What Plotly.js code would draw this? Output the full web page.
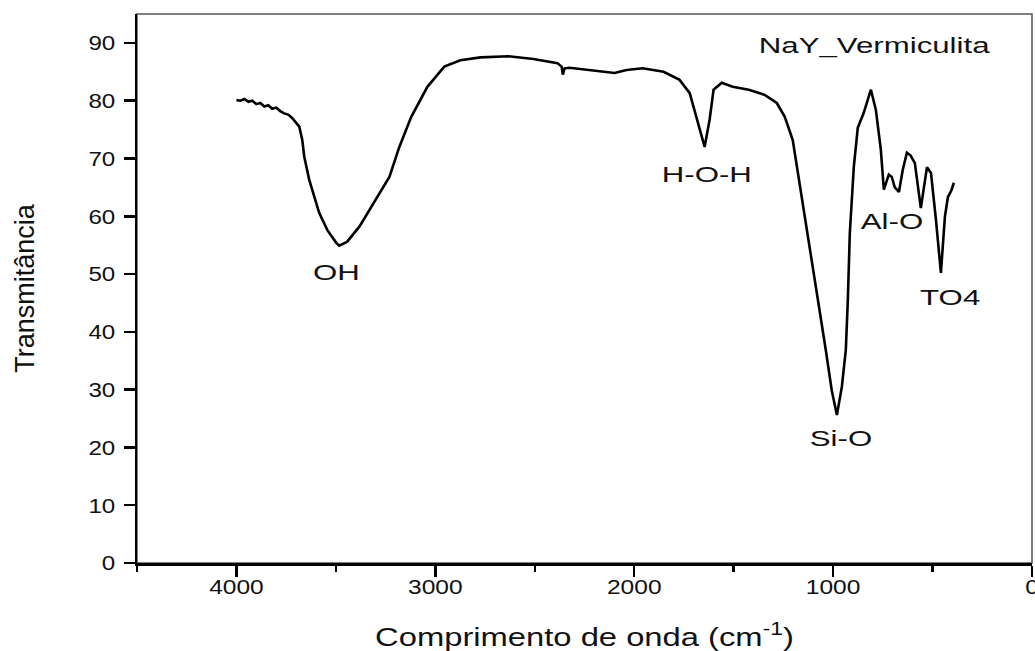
<!DOCTYPE html>
<html>
<head>
<meta charset="utf-8">
<script src="https://cdn.plot.ly/plotly-3.0.1.min.js"></script>
<style>
html,body{margin:0;padding:0;background:#fff;}
#chart{width:1035px;height:651px;}
</style>
</head>
<body>
<div id="chart"></div>
<script>
// Wavenumber (cm^-1) and transmittance (%)
const wavenumber = [4000,3980,3960,3940,3920,3900,3880,3860,3840,3820,3800,3780,3760,3740,3720,3700,3684,3669,3659,3634,3609,3584,3543,3498,3483,3443,3382,3332,3282,3231,3181,3121,3040,2955,2874,2773,2632,2507,2386,2365,2359,2350,2325,2220,2099,2038,1958,1852,1772,1721,1681,1646,1621,1601,1560,1505,1424,1344,1283,1243,1203,1163,1117,1077,1037,1007,981,956,936,926,916,896,876,846,810,785,760,745,730,720,705,690,669,650,629,610,589,559,528,508,483,458,438,423,405,393];
const transmittance = [80.1,80.0,80.3,79.8,80.0,79.4,79.6,79.0,79.2,78.6,78.8,78.2,77.8,77.6,77.0,76.2,75.5,73.2,70.3,66.3,63.3,60.6,57.6,55.4,54.9,55.6,58.2,61.1,64.0,66.8,72.0,77.2,82.4,85.9,87.0,87.5,87.7,87.2,86.5,85.9,84.5,85.6,85.7,85.3,84.8,85.3,85.6,85.0,83.6,81.3,76.1,72.0,76.7,81.9,83.1,82.4,81.9,81.0,79.6,77.2,73.2,64.6,54.2,45.5,36.9,29.9,25.6,30.5,36.9,45.5,57.1,68.5,75.3,77.9,81.9,78.4,71.5,64.6,66.0,67.2,66.8,65.0,64.2,68.0,71.0,70.5,69.2,61.4,68.5,67.5,59.4,50.2,59.9,63.3,64.5,65.8];

const labelText = ["NaY_Vermiculita","OH","H-O-H","Si-O","Al-O","TO4"];
const labelX = [793,3495,1632,962,705,413];
const labelY = [89.6,50.2,67.3,21.6,59.1,45.9];

const xTitle = "Comprimento de onda (cm<sup>-1</sup>)";
const yTitle = "Transmitância";

const FONT = "Liberation Sans, Arial, sans-serif";

const trace = {
  x: wavenumber, y: transmittance, type: 'scatter', mode: 'lines',
  line: {color: '#000', width: 2.6}, hoverinfo: 'skip'
};

const annotations = labelText.map((t,i)=>({
  x: labelX[i], y: labelY[i], xref: 'x', yref: 'y', text: t, showarrow: false,
  font: {family: FONT, size: 22, color: '#111'}
}));

const layout = {
  width: 1035, height: 651,
  margin: {l: 137, r: 3, t: 14, b: 88},
  paper_bgcolor: '#fff', plot_bgcolor: '#fff',
  showlegend: false,
  font: {family: FONT, color: '#111'},
  xaxis: {
    range: [4500, 0], dtick: 1000, tick0: 0,
    ticks: 'outside', ticklen: 11, tickwidth: 2.5, tickcolor: '#000',
    minor: {dtick: 500, tick0: 0, ticks: 'outside', ticklen: 6, tickwidth: 2.5, tickcolor: '#000'},
    showgrid: false, zeroline: false,
    showline: true, linecolor: '#000', linewidth: 2.5,
    tickfont: {family: FONT, size: 21, color: '#111'},
    ticklabelstandoff: -8,
    ticklabeloverflow: 'allow',
    title: {text: xTitle, font: {family: FONT, size: 25, color: '#111'}, standoff: 34}
  },
  yaxis: {
    range: [0, 95], dtick: 10, tick0: 0,
    ticks: 'outside', ticklen: 11, tickwidth: 2.5, tickcolor: '#000',
    showgrid: false, zeroline: false,
    showline: true, linecolor: '#000', linewidth: 2.5,
    tickfont: {family: FONT, size: 21, color: '#111'},
    ticklabelstandoff: 4,
    title: {text: yTitle, font: {family: FONT, size: 27, color: '#111'}, standoff: 50}
  },
  shapes: [{
    type: 'rect', xref: 'paper', yref: 'paper', x0: 0, x1: 1, y0: 0, y1: 1,
    line: {color: '#555', width: 1.5}, layer: 'below'
  }],
  annotations: annotations
};

// widen text horizontally like the reference rendering
function stretch(selector, s, mode) {
  document.querySelectorAll('#chart ' + selector).forEach(t => {
    const b = t.getBBox();
    const cx = mode === 'end' ? b.x + b.width : b.x + b.width / 2;
    const tr = t.getAttribute('transform') || '';
    t.setAttribute('transform', tr + ' translate(' + cx + ',0) scale(' + s + ',1) translate(' + (-cx) + ',0)');
  });
}

Plotly.newPlot('chart', [trace], layout, {staticPlot: true, displayModeBar: false}).then(() => {
  stretch('.xtick text', 1.17, 'middle');
  stretch('.ytick text', 1.15, 'end');
  stretch('.annotation-text', 1.42, 'middle');
  stretch('.g-xtitle text', 1.31, 'middle');
});
</script>
</body>
</html>
